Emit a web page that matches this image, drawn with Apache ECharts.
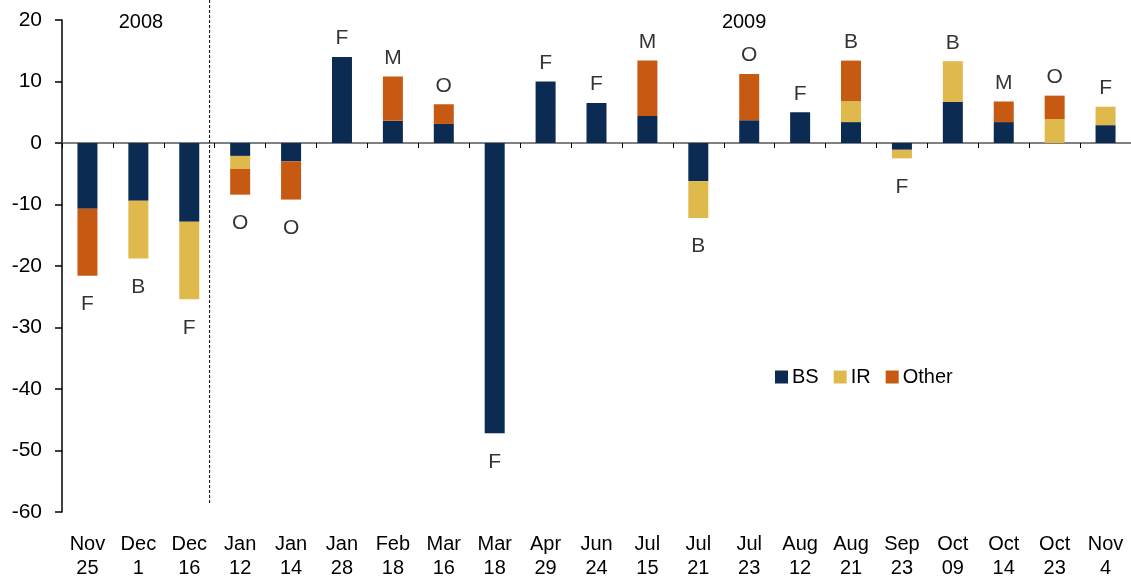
<!DOCTYPE html>
<html>
<head>
<meta charset="utf-8">
<script src="https://cdn.jsdelivr.net/npm/echarts@6/dist/echarts.min.js"></script>
<style>
html,body{margin:0;padding:0;background:#fff;}
#chart{width:1131px;height:582px;}
</style>
</head>
<body>
<div id="chart"></div>
<script>
// ---- data ----
const categories = ['Nov\n25','Dec\n1','Dec\n16','Jan\n12','Jan\n14','Jan\n28','Feb\n18','Mar\n16','Mar\n18','Apr\n29','Jun\n24','Jul\n15','Jul\n21','Jul\n23','Aug\n12','Aug\n21','Sep\n23','Oct\n09','Oct\n14','Oct\n23','Nov\n4'];
const bsValues    = [-10.7, -9.4, -12.8, -2.1, -3.0, 14.0, 3.6, 3.1, -47.2, 10.0, 6.5, 4.4, -6.2, 3.7, 5.0, 3.4, -1.1, 6.7, 3.4, 0, 2.9];
const irValues    = [0, -9.4, -12.6, -2.1, 0, 0, 0, 0, 0, 0, 0, 0, -6.0, 0, 0, 3.4, -1.4, 6.6, 0, 3.9, 3.0];
const otherValues = [-10.9, 0, 0, -4.2, -6.2, 0, 7.2, 3.2, 0, 0, 0, 9.0, 0, 7.5, 0, 6.6, 0, 0, 3.35, 3.8, 0];
const barLabels   = ['F','B','F','O','O','F','M','O','F','F','F','M','B','O','F','B','F','B','M','O','F'];
const yTicks = { min: -60, max: 20, interval: 10 };
const yearLabels = [{ text: '2008', at: 1.05 }, { text: '2009', at: 12.9 }];
const dividerAt = 2.4;

// ---- style ----
const FONT = '"Liberation Sans", Arial, Helvetica, sans-serif';
const C_BS = '#0C2B52', C_IR = '#E0B94C', C_OT = '#C65A12';

const totals = categories.map((_, i) => +(bsValues[i] + irValues[i] + otherValues[i]).toFixed(2));
const labelData = totals.map((t, i) => ({
  value: t,
  label: {
    show: true,
    formatter: barLabels[i],
    position: t >= 0 ? 'top' : 'bottom',
    distance: t >= 0 ? 8 : 18
  }
}));

const chart = echarts.init(document.getElementById('chart'), null, { renderer: 'canvas' });

const option = {
  animation: false,
  backgroundColor: '#fff',
  textStyle: { fontFamily: FONT, color: '#000' },
  grid: { left: 62, top: 20, width: 1071, bottom: 70, containLabel: false },
  legend: {
    data: ['BS', 'IR', 'Other'],
    left: 770, top: 362,
    icon: 'rect', itemWidth: 13, itemHeight: 13, itemGap: 15,
    textStyle: { fontFamily: FONT, fontSize: 20, color: '#000', padding: [0, 0, 0, -1] }
  },
  xAxis: [
    {
      type: 'category', data: categories, position: 'bottom',
      axisLine: { show: true, onZero: true, lineStyle: { color: '#808080', width: 2 } },
      axisTick: { show: true, inside: false, length: 5, lineStyle: { color: '#000', width: 1 } },
      axisLabel: { show: false },
      splitLine: { show: false }
    },
    {
      type: 'category', data: categories, position: 'bottom',
      axisLine: { show: false, onZero: false },
      axisTick: { show: false },
      axisLabel: { show: true, fontFamily: FONT, fontSize: 20, color: '#000', margin: 20, lineHeight: 24, interval: 0 },
      splitLine: { show: false }
    }
  ],
  yAxis: {
    type: 'value', min: yTicks.min, max: yTicks.max, interval: yTicks.interval,
    axisLine: { show: true, lineStyle: { color: '#000', width: 1.5 } },
    axisTick: { show: true, length: 7, lineStyle: { color: '#000', width: 1.5 } },
    axisLabel: { fontFamily: FONT, fontSize: 21, color: '#000', margin: 20 },
    splitLine: { show: false }
  },
  series: [
    { name: 'BS', type: 'bar', stack: 'tot', data: bsValues, barWidth: 20, itemStyle: { color: C_BS } },
    { name: 'IR', type: 'bar', stack: 'tot', data: irValues, barWidth: 20, itemStyle: { color: C_IR } },
    { name: 'Other', type: 'bar', stack: 'tot', data: otherValues, barWidth: 20, itemStyle: { color: C_OT } },
    {
      name: 'labels', type: 'scatter', data: labelData, symbolSize: 0, z: 5,
      label: { fontFamily: FONT, fontSize: 21, color: '#000' },
      tooltip: { show: false }
    }
  ]
};
chart.setOption(option);

function interp(idx) {
  const a = Math.floor(idx), b = a + 1;
  const pa = chart.convertToPixel({ xAxisIndex: 0 }, a);
  const pb = chart.convertToPixel({ xAxisIndex: 0 }, b);
  return pa + (pb - pa) * (idx - a);
}
const yTop = chart.convertToPixel({ yAxisIndex: 0 }, 19.6);
const dx = interp(dividerAt);
const yEnd = chart.convertToPixel({ yAxisIndex: 0 }, -58.6);
chart.setOption({
  graphic: [
    { type: 'line', shape: { x1: dx, y1: 0, x2: dx, y2: yEnd }, style: { stroke: '#000', lineWidth: 1, lineDash: [3, 2] }, z: 10 }
  ].concat(yearLabels.map(y => ({
    type: 'text', x: interp(y.at), y: yTop,
    style: { text: y.text, fontFamily: FONT, fontSize: 20, fill: '#000', align: 'center', verticalAlign: 'middle' }
  })))
});
</script>
</body>
</html>
